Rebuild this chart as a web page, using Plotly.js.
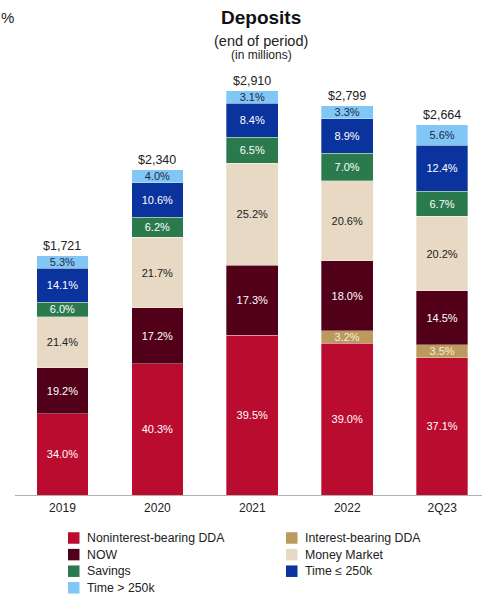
<!DOCTYPE html>
<html>
<head>
<meta charset="utf-8">
<script src="https://cdn.plot.ly/plotly-3.0.1.min.js"></script>
<style>html,body{margin:0;padding:0;background:#fff;}#chart{width:482px;height:598px;}</style>
</head>
<body>
<div id="chart"></div>
<script>
var categories = ['2019', '2020', '2021', '2022', '2Q23'];
var totals = [1721, 2340, 2910, 2799, 2664];
var seriesNames = ['Noninterest-bearing DDA', 'Interest-bearing DDA', 'NOW', 'Money Market', 'Savings', 'Time \u2264 250k', 'Time > 250k'];
var nonintDDA = [34.0, 40.3, 39.5, 39.0, 37.1];
var intDDA = [0, 0, 0, 3.2, 3.5];
var nowAcct = [19.2, 17.2, 17.3, 18.0, 14.5];
var moneyMarket = [21.4, 21.7, 25.2, 20.6, 20.2];
var savings = [6.0, 6.2, 6.5, 7.0, 6.7];
var timeSmall = [14.1, 10.6, 8.4, 8.9, 12.4];
var timeLarge = [5.3, 4.0, 3.1, 3.3, 5.6];

var seriesPct = [nonintDDA, intDDA, nowAcct, moneyMarket, savings, timeSmall, timeLarge];
var colors = ['#BA0C2F', '#BC9A5E', '#52001A', '#E7D9C4', '#2B7A4E', '#0A339E', '#82C6F5'];
var textColors = ['#ffffff', '#f4ecdc', '#ffffff', '#222222', '#ffffff', '#ffffff', '#1f2a44'];

var FONT = 'Arial, "Liberation Sans", sans-serif';

// geometry of the figure (pixels)
var W = 482, H = 598, ML = 15, MR = 0, MT = 78, MB = 103;
var PW = W - ML - MR, PH = H - MT - MB;
function px2x(px) { return (px - ML) / PW; }
function py2y(py) { return (H - MB - py) / PH; }

var traces = seriesPct.map(function (pcts, i) {
  return {
    type: 'bar',
    name: seriesNames[i],
    x: categories,
    y: pcts.map(function (p, j) { return p > 0 ? totals[j] * p / 100 : null; }),
    text: pcts.map(function (p) { return p > 0 ? p.toFixed(1) + '%' : ''; }),
    textposition: 'inside',
    insidetextanchor: 'middle',
    constraintext: 'none',
    textangle: 0,
    textfont: {family: FONT, size: 11, color: textColors[i]},
    marker: {color: colors[i], line: {width: 0.6, color: 'rgba(255,255,255,0.55)'}},
    showlegend: false,
    hoverinfo: 'skip'
  };
});

var annotations = totals.map(function (t, j) {
  return {
    x: j, y: t, xref: 'x', yref: 'y',
    text: '$' + t.toLocaleString('en-US'),
    showarrow: false, yanchor: 'bottom', yshift: 1,
    font: {family: FONT, size: 12.5, color: '#222'}
  };
});
annotations.push(
  {xref: 'paper', yref: 'paper', x: px2x(261), y: py2y(17), xanchor: 'center', yanchor: 'middle', text: '<b>Deposits</b>', showarrow: false, font: {family: FONT, size: 19, color: '#111'}},
  {xref: 'paper', yref: 'paper', x: px2x(261), y: py2y(41), xanchor: 'center', yanchor: 'middle', text: '(end of period)', showarrow: false, font: {family: FONT, size: 14.5, color: '#222'}},
  {xref: 'paper', yref: 'paper', x: px2x(261), y: py2y(55.5), xanchor: 'center', yanchor: 'middle', text: '(in millions)', showarrow: false, font: {family: FONT, size: 12, color: '#222'}},
  {xref: 'paper', yref: 'paper', x: px2x(0), y: py2y(17), xanchor: 'left', yanchor: 'middle', borderpad: 0, text: '%', showarrow: false, font: {family: FONT, size: 15, color: '#222'}}
);

// legend (two columns, filled row by row in series order)
var shapes = [];
var legColX = [68, 286], legRowY0 = 538, legRowStep = 16.6, sw = 11.5;
seriesNames.forEach(function (name, i) {
  var col = i % 2, row = Math.floor(i / 2);
  var cx = legColX[col], cy = legRowY0 + row * legRowStep;
  shapes.push({
    type: 'rect', xref: 'paper', yref: 'paper', layer: 'above',
    x0: px2x(cx), x1: px2x(cx + sw), y0: py2y(cy - sw / 2), y1: py2y(cy + sw / 2),
    fillcolor: colors[i], line: {width: 0}
  });
  annotations.push({
    xref: 'paper', yref: 'paper', x: px2x(cx + 18), y: py2y(cy),
    xanchor: 'left', yanchor: 'middle', borderpad: 0, showarrow: false,
    text: name, font: {family: FONT, size: 12.3, color: '#222'}
  });
});

var layout = {
  width: W, height: H,
  margin: {l: ML, r: MR, t: MT, b: MB},
  paper_bgcolor: '#ffffff', plot_bgcolor: '#ffffff',
  barmode: 'stack',
  bargap: 0.456,
  showlegend: false,
  font: {family: FONT, color: '#222'},
  xaxis: {
    type: 'category', range: [-0.5, 4.42],
    showline: true, linecolor: '#b0b0b0', linewidth: 1,
    ticks: '', showgrid: false, zeroline: false, ticklabelstandoff: 2,
    tickfont: {family: FONT, size: 12, color: '#222'}, fixedrange: true
  },
  yaxis: {range: [0, 3000], visible: false, showgrid: false, zeroline: false, fixedrange: true},
  annotations: annotations,
  shapes: shapes
};

Plotly.newPlot('chart', traces, layout, {displayModeBar: false, staticPlot: true});
</script>
</body>
</html>
